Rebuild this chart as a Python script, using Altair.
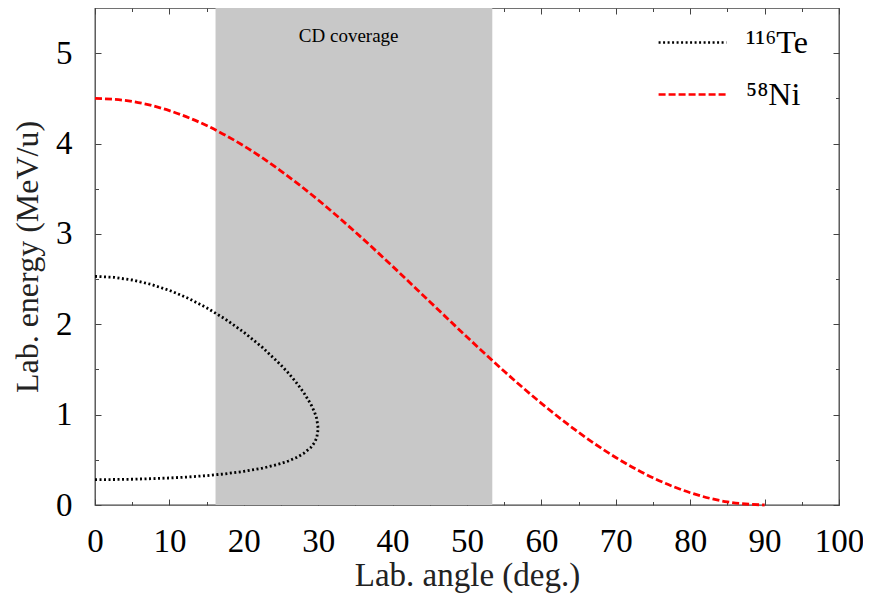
import altair as alt
import pandas as pd

# 116Te kinematic curve (upper branch then lower branch)
te_angle = [0, 2.5, 5, 7.5, 10, 12.5, 15, 17.5, 20, 22.5, 25, 26, 27, 28, 29, 29.5, 29.8, 30,
            29.8, 29.5, 29, 28, 27, 26, 25, 22.5, 20, 17.5, 15, 12.5, 10, 7.5, 5, 2.5, 0]
te_energy = [2.53, 2.52, 2.49, 2.442, 2.375, 2.289, 2.183, 2.058, 1.912, 1.744, 1.548, 1.459,
             1.361, 1.251, 1.117, 1.030, 0.957, 0.843,
             0.743, 0.690, 0.636, 0.568, 0.522, 0.487, 0.459, 0.407, 0.372, 0.345, 0.325,
             0.310, 0.299, 0.291, 0.285, 0.282, 0.281]

# 58Ni curve
ni_angle = [0, 5, 10, 15, 20, 25, 30, 35, 40, 45, 50, 55, 60, 65, 70, 75, 80, 85, 90]
ni_energy = [4.5, 4.466, 4.364, 4.199, 3.974, 3.696, 3.375, 3.020, 2.641, 2.25, 1.859,
             1.480, 1.125, 0.804, 0.526, 0.301, 0.136, 0.034, 0.0]

series_names = ["¹¹⁶Te", "⁵⁸Ni"]
series_colors = ["#000000", "#ff0000"]

band_start = [16.2]
band_end = [53.4]
band_bottom = [0.0]
band_top = [5.5]
band_label = ["CD coverage"]
band_label_x = [34.1]
band_label_y = [5.19]

x_major = [0, 10, 20, 30, 40, 50, 60, 70, 80, 90, 100]
x_minor = [5, 15, 25, 35, 45, 55, 65, 75, 85, 95]
y_major = [0, 1, 2, 3, 4, 5]
y_minor = [0.5, 1.5, 2.5, 3.5, 4.5]

te_df = pd.DataFrame({"angle": te_angle, "energy": te_energy,
                      "idx": list(range(len(te_angle))), "series": series_names[0]})
ni_df = pd.DataFrame({"angle": ni_angle, "energy": ni_energy,
                      "idx": list(range(len(ni_angle))), "series": series_names[1]})
band_df = pd.DataFrame({"x0": band_start, "x1": band_end, "y0": band_bottom, "y1": band_top})
text_df = pd.DataFrame({"label": band_label, "tx": band_label_x, "ty": band_label_y})

xs = alt.Scale(domain=[0, 100], nice=False, zero=False)
ys = alt.Scale(domain=[0, 5.5], nice=False, zero=False)

TICK = "#444444"


def tick_axis(orient, values, size):
    return alt.Axis(orient=orient, values=values, tickSize=size, offset=-size,
                    labels=False, title=None, domain=False, grid=False,
                    tickColor=TICK, tickWidth=1)


color_enc = alt.Color("series:N", scale=alt.Scale(domain=series_names, range=series_colors),
                      legend=alt.Legend(orient="none", legendX=562, legendY=-1, title=None,
                                        symbolType="stroke", symbolSize=4600,
                                        symbolStrokeWidth=2.6, labelFont="Liberation Serif",
                                        labelFontSize=32, labelColor="#000", labelOffset=18,
                                        labelLimit=300, rowPadding=-21))
dash_enc = alt.StrokeDash("series:N",
                          scale=alt.Scale(domain=series_names, range=[[2, 2.5], [7, 3]]),
                          legend=None)

band = alt.Chart(band_df).mark_rect(color="#c8c8c8").encode(
    x=alt.X("x0:Q", scale=xs,
            axis=alt.Axis(orient="bottom", values=x_major, tickSize=6, offset=-6,
                          domain=False, grid=False, tickColor=TICK, labelPadding=20,
                          title="Lab.  angle (deg.)", titlePadding=1, labelFlush=False,
                          labelFont="Liberation Serif", labelFontSize=33, labelColor="#000",
                          titleFont="Liberation Serif", titleFontSize=33, titleColor="#222",
                          titleFontWeight="normal")),
    x2="x1:Q",
    y=alt.Y("y0:Q", scale=ys,
            axis=alt.Axis(orient="left", values=y_major, tickSize=6, offset=-6,
                          domain=False, grid=False, tickColor=TICK, labelPadding=23,
                          title="Lab. energy (MeV/u)", titlePadding=11, labelFlush=False,
                          labelFont="Liberation Serif", labelFontSize=33, labelColor="#000",
                          titleFont="Liberation Serif", titleFontSize=32, titleColor="#222",
                          titleFontWeight="normal")),
    y2="y1:Q",
)

text = alt.Chart(text_df).mark_text(font="Liberation Serif", fontSize=19, color="#000").encode(
    x=alt.X("tx:Q", scale=xs, axis=tick_axis("bottom", x_minor, 3.5)),
    y=alt.Y("ty:Q", scale=ys, axis=tick_axis("left", y_minor, 3.5)),
    text="label:N",
)

te = alt.Chart(te_df).mark_line(strokeWidth=2.8).encode(
    x=alt.X("angle:Q", scale=xs, axis=tick_axis("top", x_major, 6)),
    y=alt.Y("energy:Q", scale=ys, axis=tick_axis("right", y_major, 6)),
    order=alt.Order("idx:Q"),
    color=color_enc,
    strokeDash=dash_enc,
)

ni = alt.Chart(ni_df).mark_line(strokeWidth=2.8, interpolate="monotone").encode(
    x=alt.X("angle:Q", scale=xs, axis=tick_axis("top", x_minor, 3.5)),
    y=alt.Y("energy:Q", scale=ys, axis=tick_axis("right", y_minor, 3.5)),
    order=alt.Order("idx:Q"),
    color=color_enc,
    strokeDash=dash_enc,
)

chart = alt.layer(band, text, te, ni).resolve_axis(
    x="independent", y="independent"
).properties(
    width=744, height=497,
    background="white",
    autosize=alt.AutoSizeParams(type="none"),
    padding={"left": 87, "top": 0, "right": 24, "bottom": 90},
).configure_view(
    stroke=TICK, strokeWidth=1.3
)

chart.save("out.html", embed_options={"renderer": "svg", "actions": False})
